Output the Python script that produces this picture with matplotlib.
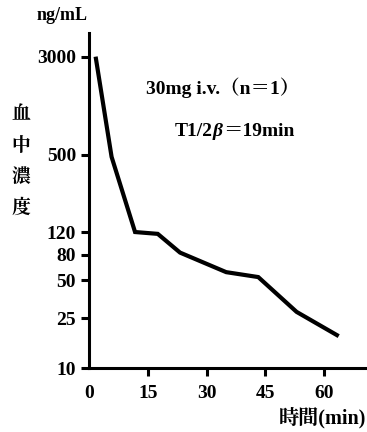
import matplotlib.pyplot as plt
from matplotlib.ticker import NullLocator

# time (min) and concentration (ng/mL)
t = [1.7, 5.7, 11.7, 17.5, 23.2, 35.0, 43.2, 53.0, 63.3]
conc = [2900, 480, 121, 117, 83, 58, 53, 28, 18.3]

yticks = [10, 25, 50, 80, 120, 500, 3000]
xticks = [0, 15, 30, 45, 60]

plt.rcParams['font.family'] = ['Liberation Serif', 'Noto Serif CJK JP', 'Noto Sans CJK JP', 'DejaVu Sans']
plt.rcParams['font.weight'] = 'bold'

fig = plt.figure(figsize=(3.67, 4.32), dpi=100)
ax = fig.add_axes([0.2433, 0.148, 0.7567, 0.7756])

ax.plot(t, conc, color='black', lw=3, solid_joinstyle='miter')
ax.set_yscale('log')
ax.set_ylim(10, 4645)
ax.set_xlim(0, 71)
ax.set_yticks(yticks)
ax.set_yticklabels([str(v) for v in yticks])
ax.yaxis.set_minor_locator(NullLocator())
ax.set_xticks(xticks)
ax.set_xticklabels([str(v) for v in xticks])
ax.xaxis.get_major_ticks()[0].tick1line.set_visible(False)

for s in ['top', 'right']:
	ax.spines[s].set_visible(False)
for s in ['left', 'bottom']:
	ax.spines[s].set_linewidth(2.2)
ax.tick_params(axis='both', width=2.2, length=6, labelsize=14)
ax.tick_params(axis='x', pad=6)

fig.text(37 / 367, 1 - 16 / 432, 'ng/mL', fontsize=13, va='center', ha='left')
for i, ch in enumerate('血中濃度'):
	fig.text(21 / 367, 1 - (115 + 31 * i) / 432, ch, fontsize=13.5, va='center', ha='center')
fig.text(146 / 367, 1 - 88 / 432, '30mg i.v.（n＝1）', fontsize=14, va='center', ha='left')

# T1/2β=19min, with an italic beta
pieces = [('T1/2', 'normal'), ('β', 'italic'), ('＝19min', 'normal')]
x = 175
r = fig.canvas.get_renderer()
for s, st in pieces:
	tx = fig.text(x / 367, 1 - 132 / 432, s, fontsize=14, style=st, va='center', ha='left')
	x += tx.get_window_extent(r).width
fig.text(366 / 367, 1 - 418 / 432, '時間(min)', fontsize=14.5, va='center', ha='right')

fig.savefig('out.png', dpi=100)
